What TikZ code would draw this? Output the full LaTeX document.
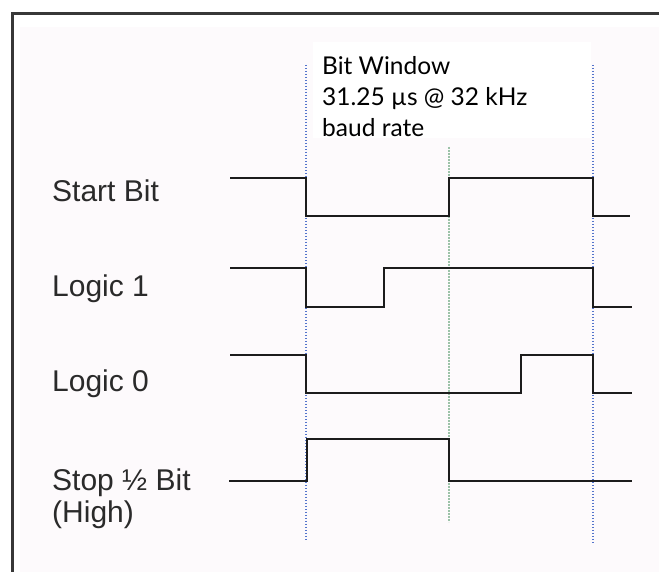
\documentclass[tikz,border=0pt]{standalone}
\usepackage{fontspec}
\setmainfont{Liberation Sans}
\newfontfamily\boxfont{Lato}
\definecolor{bgtint}{HTML}{FDFAFC}
\definecolor{framec}{HTML}{383838}
\definecolor{labelc}{HTML}{2A2A2A}
\definecolor{wavec}{HTML}{1C1C1C}
\definecolor{blued}{HTML}{5474CC}
\definecolor{greend}{HTML}{9CC2A8}
\tikzset{
  wave/.style={draw=wavec, line width=2pt, line join=miter},
  bluedots/.style={draw=blued, line width=1.7pt, dash pattern=on 1.3pt off 1.7pt},
  greendots/.style={draw=greend, line width=1.8pt, dash pattern=on 1.6pt off 1.4pt},
  siglabel/.style={anchor=base west, inner sep=0pt, text=labelc, font=\fontsize{30}{32}\selectfont},
  boxtext/.style={anchor=base west, inner sep=0pt, text=black, font=\boxfont\fontsize{24.5}{28}\selectfont}
}
\begin{document}
\begin{tikzpicture}[x=1pt,y=-1pt]
\useasboundingbox (0,0) rectangle (659,572);
\fill[white] (0,0) rectangle (659,572);
\fill[bgtint] (20,27) rectangle (659,572);
\draw[framec, line width=3pt] (12,580) -- (12,14) -- (670,14);
% text box
\fill[white] (313,42) rectangle (591,138);
% guide lines
\draw[bluedots] (306.3,65) -- (306.3,540);
\draw[greendots] (449,147) -- (449,522);
\draw[bluedots] (592.7,65) -- (592.7,544);
% waveforms
\draw[wave] (230,178.3) -- (306.3,178.3) -- (306.3,216.5) -- (448.5,216.5) -- (448.5,178.3) -- (592.7,178.3) -- (592.7,216.5) -- (629.5,216.5);
\draw[wave] (230,268.3) -- (306.3,268.3) -- (306.3,306.7) -- (384.3,306.7) -- (384.3,268.3) -- (592.7,268.3) -- (592.7,306.7) -- (631.7,306.7);
\draw[wave] (230,355) -- (306.3,355) -- (306.3,392.7) -- (520.7,392.7) -- (520.7,355) -- (592.7,355) -- (592.7,392.7) -- (631.7,392.7);
\draw[wave] (229.3,481) -- (306.7,481) -- (306.7,439.3) -- (449,439.3) -- (449,481) -- (631.7,481);
% labels
\node[siglabel] (start) at (52,201.7) {Start Bit};
\node[siglabel] (logic1) at (52,296.7) {Logic 1};
\node[siglabel] (logic0) at (52,391.7) {Logic 0};
\node[siglabel] (stop) at (52,490) {Stop ½ Bit};
\node[siglabel] (stophigh) at (52,522) {(High)};
\node[boxtext] (bw1) at (322,75) {Bit Window};
\node[boxtext] (bw2) at (322,106) {31.25 µs @ 32 kHz};
\node[boxtext] (bw3) at (322,137) {baud rate};
\end{tikzpicture}
\end{document}
